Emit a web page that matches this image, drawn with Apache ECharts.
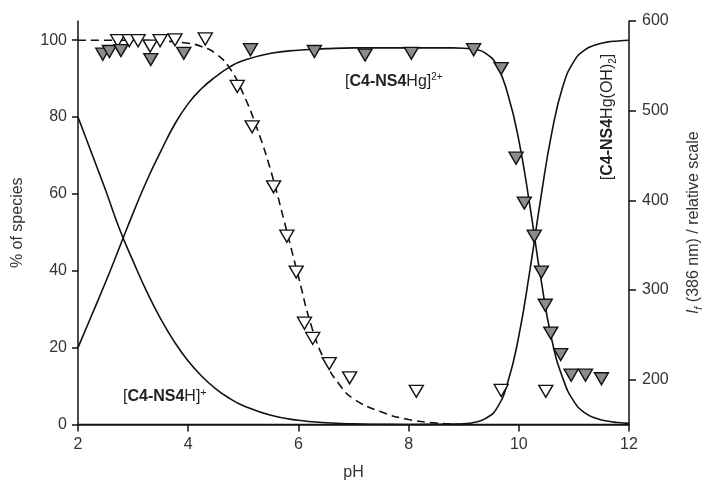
<!DOCTYPE html>
<html>
<head>
<meta charset="utf-8">
<script src="https://cdn.jsdelivr.net/npm/echarts@6/dist/echarts.min.js"></script>
<style>
  html, body { margin: 0; background: #fff; }
  #chart { width: 712px; height: 486px; }
</style>
</head>
<body>
<div id="chart"></div>
<script>
const font = '"Liberation Sans", Arial, sans-serif'

// species distribution, [pH, % of species]
const speciesH = [[2.0, 80], [2.25, 70.5], [2.5, 61], [2.75, 51], [3.0, 42.5], [3.25, 34.5], [3.5, 27.5],
  [3.75, 21.5], [4.0, 16.5], [4.25, 12.5], [4.5, 9.3], [4.75, 6.8], [5.0, 4.9], [5.5, 2.4], [6.0, 1.1],
  [6.5, 0.45], [7.0, 0.15], [7.5, 0.05], [8.0, 0], [10.0, 0], [12.0, 0]]
const speciesHg = [[2.0, 20], [2.25, 28.5], [2.5, 37], [2.75, 46], [3.0, 55], [3.25, 63.5], [3.5, 71],
  [3.75, 78], [4.0, 83.5], [4.25, 87.5], [4.5, 90.5], [4.75, 93], [5.0, 94.7], [5.5, 96.6], [6.0, 97.4],
  [6.5, 97.8], [7.0, 98], [7.5, 98], [8.0, 98], [8.5, 98], [8.8, 98], [9.0, 97.9], [9.2, 97.6], [9.4, 96.6],
  [9.6, 93.5], [9.8, 86], [10.0, 74], [10.2, 57], [10.4, 38], [10.6, 22], [10.8, 12], [11.0, 6], [11.2, 3],
  [11.4, 1.6], [11.6, 0.9], [11.8, 0.5], [12.0, 0.3]]
const speciesHgOH = [[2.0, 0], [6.0, 0], [8.0, 0], [8.5, 0.05], [8.8, 0.1], [9.0, 0.2], [9.2, 0.6], [9.4, 1.6],
  [9.6, 4.2], [9.8, 11], [10.0, 23], [10.2, 40], [10.4, 59], [10.6, 76], [10.8, 88], [11.0, 94.5],
  [11.2, 97.5], [11.4, 98.8], [11.6, 99.5], [11.8, 99.8], [12.0, 100]]
const dashedFit = [[2.0, 100], [2.5, 100], [3.0, 100], [3.5, 99.8], [4.0, 99.2], [4.25, 98.3], [4.5, 96.5],
  [4.75, 92.8], [5.0, 86], [5.25, 77], [5.5, 66], [5.75, 52.5], [6.0, 38.5], [6.25, 25], [6.5, 16],
  [6.75, 10.3], [7.0, 6.7], [7.5, 3.3], [8.0, 1.3], [8.5, 0.4], [9.0, 0]]

// fluorescence If (386 nm), [pH, relative scale]
const openPts = [[2.72, 578], [2.93, 578], [3.09, 578], [3.31, 572], [3.49, 578], [3.76, 579], [4.31, 580],
  [4.89, 527], [5.16, 482], [5.55, 415], [5.79, 360], [5.96, 320], [6.11, 263], [6.26, 246], [6.56, 218],
  [6.93, 202], [8.14, 187], [9.68, 188], [10.49, 187]]
const grayPts = [[2.45, 563], [2.57, 566], [2.78, 567], [3.32, 557], [3.92, 564], [5.13, 568], [6.29, 566],
  [7.21, 562], [8.05, 564], [9.18, 568], [9.68, 547], [9.95, 447], [10.10, 397], [10.28, 360], [10.41, 320],
  [10.48, 283], [10.58, 252], [10.76, 228], [10.95, 205], [11.21, 205], [11.50, 201]]

const xTicks = [2, 4, 6, 8, 10, 12]
const leftTicks = [0, 20, 40, 60, 80, 100]
const rightTicks = [200, 300, 400, 500, 600]

const chart = echarts.init(document.getElementById('chart'), null, { renderer: 'canvas' })

const axisLine = { lineStyle: { color: '#111', width: 1.5 } }
const label = { color: '#333', fontSize: 16, fontFamily: font }

function curve(data, dashed) {
  return {
    type: 'line',
    yAxisIndex: 0,
    data: data,
    smooth: 0.5,
    symbol: 'none',
    lineStyle: { color: '#111', width: 1.6, type: dashed ? [8, 5] : 'solid' },
    z: 2
  }
}

function points(data, fill) {
  return {
    type: 'scatter',
    yAxisIndex: 1,
    data: data,
    symbol: 'triangle',
    symbolRotate: 180,
    symbolSize: [14, 12],
    itemStyle: { color: fill, borderColor: '#111', borderWidth: 1.4, opacity: 1 },
    z: 3
  }
}

const option = {
  animation: false,
  backgroundColor: '#fff',
  grid: { left: 78, right: 74, top: 21, bottom: 61.5 },
  xAxis: {
    type: 'value',
    min: 2,
    max: 12,
    interval: 2,
    name: 'pH',
    nameLocation: 'middle',
    nameGap: 40,
    nameTextStyle: label,
    axisLine: axisLine,
    axisTick: { length: 7, lineStyle: { color: '#111', width: 1.5 }, customValues: xTicks },
    axisLabel: Object.assign({ margin: 12, customValues: xTicks }, label),
    splitLine: { show: false }
  },
  yAxis: [{
    type: 'value',
    position: 'left',
    min: 0,
    max: 105,
    name: '% of species',
    nameLocation: 'middle',
    nameRotate: 90,
    nameGap: 52,
    nameTextStyle: label,
    axisLine: Object.assign({ show: true }, axisLine),
    axisTick: { length: 6, lineStyle: { color: '#111', width: 1.5 }, customValues: leftTicks },
    axisLabel: Object.assign({ margin: 11, customValues: leftTicks }, label),
    splitLine: { show: false }
  }, {
    type: 'value',
    position: 'right',
    min: 150,
    max: 600,
    name: '{i|I}{sub|f} (386 nm) / relative scale',
    nameLocation: 'middle',
    nameRotate: 90,
    nameGap: 55,
    nameTextStyle: Object.assign({
      lineHeight: 20,
      rich: {
        i: { fontStyle: 'italic', fontSize: 16, fontFamily: font, color: '#333' },
        sub: { fontStyle: 'italic', fontSize: 11, fontFamily: font, color: '#333', verticalAlign: 'bottom' }
      }
    }, label),
    axisLine: Object.assign({ show: true }, axisLine),
    axisTick: { length: 7, lineStyle: { color: '#111', width: 1.5 }, customValues: rightTicks },
    axisLabel: Object.assign({ margin: 13, customValues: rightTicks }, label),
    splitLine: { show: false }
  }],
  series: [
    curve(speciesH),
    curve(speciesHg),
    curve(speciesHgOH),
    curve(dashedFit, true),
    points(openPts, '#ffffff'),
    points(grayPts, '#8c8c8c')
  ],
  graphic: [{
    type: 'text',
    left: 345,
    top: 72,
    style: {
      text: '[{b|C4-NS4}Hg]{sup|2+}',
      font: '16px ' + font,
      fill: '#222',
      lineHeight: 20,
      rich: {
        b: { fontWeight: 'bold', fontSize: 16, fontFamily: font, fill: '#222' },
        sup: { fontSize: 10, fontFamily: font, fill: '#222', verticalAlign: 'top' }
      }
    }
  }, {
    type: 'text',
    left: 123,
    top: 387,
    style: {
      text: '[{b|C4-NS4}H]{sup|+}',
      font: '16px ' + font,
      fill: '#222',
      lineHeight: 20,
      rich: {
        b: { fontWeight: 'bold', fontSize: 16, fontFamily: font, fill: '#222' },
        sup: { fontSize: 11, fontFamily: font, fill: '#222', verticalAlign: 'top' }
      }
    }
  }, {
    type: 'text',
    x: 608,
    y: 117,
    rotation: Math.PI / 2,
    style: {
      text: '[{b|C4-NS4}Hg(OH){sub|2}]',
      font: '16px ' + font,
      fill: '#222',
      align: 'center',
      verticalAlign: 'middle',
      lineHeight: 20,
      rich: {
        b: { fontWeight: 'bold', fontSize: 16, fontFamily: font, fill: '#222' },
        sub: { fontSize: 10, fontFamily: font, fill: '#222', verticalAlign: 'bottom' }
      }
    }
  }]
}

chart.setOption(option)
</script>
</body>
</html>
